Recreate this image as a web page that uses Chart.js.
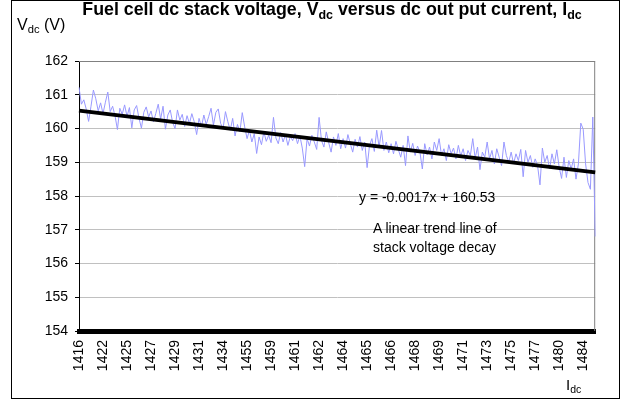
<!DOCTYPE html>
<html>
<head>
<meta charset="utf-8">
<title>Fuel cell dc stack voltage</title>
<script src="https://cdn.jsdelivr.net/npm/chart.js@4.4.1/dist/chart.umd.min.js"></script>
<style>
  html, body { margin: 0; padding: 0; background: #fff; }
  #wrap { position: relative; width: 621px; height: 400px; font-family: Arial, "Liberation Sans", sans-serif; }
  #wrap canvas { position: absolute; left: 0; top: 0; }
  .txt { position: absolute; white-space: nowrap; line-height: 1; color: #000; }
  .txt sub { font-size: 70%; vertical-align: baseline; position: relative; top: 0.3em; }
  #frame { position: absolute; left: 11px; top: 0; width: 607px; height: 397px; border: 1px solid #000; }
</style>
</head>
<body>
<div id="wrap">
  <canvas id="voltagechart" width="621" height="400"></canvas>
  <div id="frame"></div>
  <div class="txt" id="title" style="left:332px; top:1px; transform:translateX(-50%); font-size:17.8px; font-weight:bold;">Fuel cell dc stack voltage, V<sub>dc</sub> versus dc out put current, I<sub>dc</sub></div>
  <div class="txt" style="left:17px; top:17px; font-size:16px;">V<sub>dc</sub> (V)</div>
  <div class="txt" style="left:566px; top:377px; font-size:15px;">I<sub>dc</sub></div>
  <div class="txt" style="left:359px; top:190px; font-size:14px;">y = -0.0017x + 160.53</div>
  <div class="txt" style="left:373px; top:221px; font-size:14px;">A linear trend line of</div>
  <div class="txt" style="left:373px; top:240px; font-size:14px;">stack voltage decay</div>
</div>
<script>
// x axis tick labels (dc current, A), one every 10 samples
const tickLabels = [1416, 1422, 1425, 1427, 1429, 1431, 1434, 1455, 1459, 1461, 1462,
  1464, 1465, 1466, 1468, 1469, 1471, 1473, 1475, 1477, 1480, 1484];
const labelStep = 10;

const voltage = [
  161.22, 160.72, 160.85, 160.58, 160.21, 160.66, 161.14, 160.88, 160.52, 160.76,
  160.44, 160.78, 161.08, 160.50, 160.66, 160.38, 159.97, 160.60, 160.42, 160.70,
  160.36, 160.62, 160.02, 160.55, 160.68, 160.30, 160.01, 160.48, 160.64, 160.34,
  160.52, 160.20, 160.45, 160.72, 160.28, 160.66, 159.98, 160.40, 160.55, 160.18,
  160.00, 160.55, 160.25, 160.42, 160.06, 160.38, 160.15, 160.44, 160.20, 159.82,
  160.30, 160.05, 160.40, 160.12, 160.35, 160.60, 160.10, 160.48, 160.58, 160.15,
  160.00, 160.50, 160.20, 159.95, 160.30, 159.78, 160.12, 159.90, 160.47, 160.05,
  159.70, 159.95, 159.60, 159.85, 159.26, 159.75, 159.52, 159.90, 159.62, 159.80,
  159.58, 160.33, 159.72, 159.55, 159.88, 159.60, 159.82, 159.50, 159.76, 159.64,
  159.85, 159.55, 159.78, 159.42, 158.87, 159.70, 159.48, 159.80, 159.60, 159.38,
  160.33, 159.65, 159.45, 159.90, 159.58, 159.30, 159.75, 159.50, 159.85, 159.40,
  159.70, 159.42, 159.82, 159.55, 159.30, 159.68, 159.45, 159.76, 159.35, 159.60,
  158.84, 159.50, 159.70, 159.32, 159.95, 159.45, 159.94, 159.35, 159.60, 159.28,
  159.55, 159.25, 159.62, 159.38, 159.15, 159.50, 158.90, 159.78, 159.30, 159.56,
  159.20, 159.48, 159.30, 158.80, 159.55, 159.22, 159.45, 159.10, 159.60, 159.35,
  159.70, 159.20, 159.40, 159.05, 159.52, 159.25, 159.42, 159.10, 159.50, 159.18,
  159.40, 159.05, 159.35, 159.20, 159.70, 159.12, 159.45, 158.78, 159.30, 159.15,
  159.60, 159.10, 159.35, 158.95, 159.40, 159.15, 158.90, 159.60, 159.20, 159.00,
  159.30, 158.95, 159.25, 159.05, 159.38, 158.57, 159.35, 159.00, 159.20, 158.85,
  159.10, 158.90, 158.33, 159.42, 159.00, 159.20, 158.80, 159.25, 158.95, 159.37,
  158.85, 158.52, 159.15, 158.55, 159.05, 158.80, 159.10, 158.50, 158.95, 160.16,
  159.98, 158.95, 158.40, 158.20, 160.34, 156.80
];

// linear trend line end points (V)
const trendEnds = [160.53, 158.70];

const samples = voltage.map((v, i) => i + 1);
const trend = voltage.map(() => null);
trend[0] = trendEnds[0];
trend[trend.length - 1] = trendEnds[1];

const fontFamily = "Arial, 'Liberation Sans', sans-serif";

// gray frame on top and right of the plot area
const plotBorder = {
  id: "plotBorder",
  beforeDatasetsDraw(chart) {
    const { ctx, chartArea: a } = chart;
    ctx.save();
    ctx.strokeStyle = "#808080";
    ctx.lineWidth = 1;
    ctx.beginPath();
    ctx.moveTo(a.left, a.top + 0.5);
    ctx.lineTo(a.right - 0.5, a.top + 0.5);
    ctx.lineTo(a.right - 0.5, a.bottom);
    ctx.stroke();
    ctx.restore();
  },
};

new Chart(document.getElementById("voltagechart"), {
  type: "line",
  data: {
    labels: samples,
    datasets: [
      {
        label: "Trend",
        data: trend,
        borderColor: "#000",
        borderWidth: 4,
        pointRadius: 0,
        spanGaps: true,
        order: 0,
      },
      {
        label: "Vdc",
        data: voltage,
        borderColor: "#9999ff",
        borderWidth: 1,
        pointRadius: 0,
        tension: 0,
        order: 1,
      },
    ],
  },
  options: {
    responsive: false,
    animation: false,
    devicePixelRatio: 1,
    layout: { padding: { top: 61, right: 22, left: 0, bottom: 0 } },
    plugins: { legend: { display: false }, tooltip: { enabled: false } },
    scales: {
      x: {
        type: "category",
        grid: { drawOnChartArea: false, drawTicks: false },
        border: { color: "#000", width: 5 },
        ticks: {
          autoSkip: false,
          minRotation: 90,
          maxRotation: 90,
          padding: 9,
          color: "#000",
          font: { size: 14, family: fontFamily },
          callback: (val, i) => (i % labelStep === 0 ? tickLabels[i / labelStep] : ""),
        },
        afterFit: (s) => { s.height = 69; },
      },
      y: {
        min: 154,
        max: 162,
        ticks: {
          stepSize: 1,
          padding: 7,
          color: "#000",
          font: { size: 14, family: fontFamily },
        },
        grid: {
          color: (c) => (c.tick && c.tick.value === 162 ? "#808080" : "#c0c0c0"),
          tickColor: "#000",
          tickLength: 4,
        },
        border: { color: "#000", width: 1 },
        afterFit: (s) => { s.width = 79; },
      },
    },
  },
  plugins: [plotBorder],
});
</script>
</body>
</html>
